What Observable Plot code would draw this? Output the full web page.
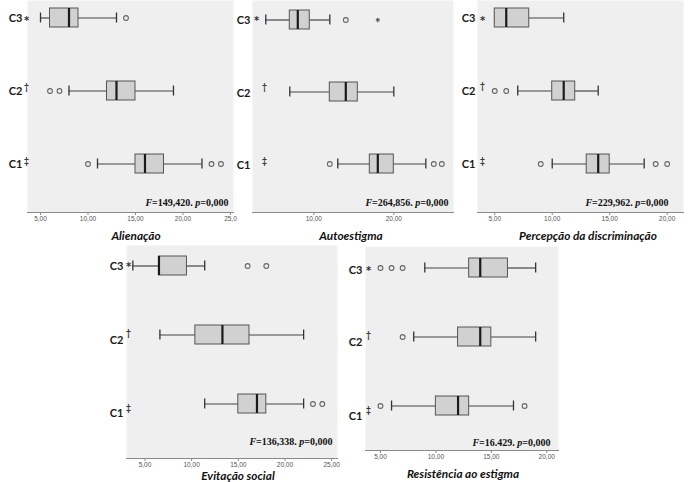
<!DOCTYPE html>
<html><head><meta charset="utf-8">
<script src="https://cdn.jsdelivr.net/npm/d3@7"></script>
<script src="https://cdn.jsdelivr.net/npm/@observablehq/plot@0.6"></script>
<style>
body{margin:0;background:#fff;}
#fig{position:relative;width:689px;height:482px;overflow:hidden;}
.panel{position:absolute;}
.title{position:absolute;font-family:Lato,"Open Sans",sans-serif;font-weight:700;font-style:italic;font-size:11.8px;color:#111;white-space:nowrap;transform:translate(-50%,-50%);line-height:12px;}
</style></head><body><div id="fig"></div>
<script>
// ---- shared categories ----
const groups = ["C3", "C2", "C1"];
const groupMarks = ["*", "\u2020", "\u2021"];

// ---- Alienação ----
const alienTitle = "Alienação";
const alienStat = "F=149,420. p=0,000";
const alienMin = [5, 8, 11];
const alienQ1 = [6, 12, 15];
const alienMed = [8, 13, 16];
const alienQ3 = [9, 15, 18];
const alienMax = [13, 19, 22];
const alienOutGroup = ["C3", "C2", "C2", "C1", "C1", "C1"];
const alienOutValue = [14, 6, 7, 10, 23, 24];
const alienExtGroup = [];
const alienExtValue = [];
const alienTicks = [5, 10, 15, 20, 25];
const alienTickLabels = ["5,00", "10,00", "15,00", "20,00", "25,0"];

// ---- Autoestigma ----
const autoTitle = "Autoestigma";
const autoStat = "F=264,856. p=0,000";
const autoMin = [4, 7, 13];
const autoQ1 = [7, 12, 17];
const autoMed = [8, 14, 18];
const autoQ3 = [9.5, 15.5, 20];
const autoMax = [12, 20, 24];
const autoOutGroup = ["C3", "C1", "C1", "C1"];
const autoOutValue = [14, 12, 25, 26];
const autoExtGroup = ["C3"];
const autoExtValue = [18];
const autoTicks = [10, 20];
const autoTickLabels = ["10,00", "20,00"];

// ---- Percepção da discriminação ----
const percTitle = "Percepção da discriminação";
const percStat = "F=229,962. p=0,000";
const percMin = [5, 7, 10];
const percQ1 = [5, 10, 13];
const percMed = [6, 11, 14];
const percQ3 = [8, 12, 15];
const percMax = [11, 14, 18];
const percOutGroup = ["C2", "C2", "C1", "C1", "C1"];
const percOutValue = [5, 6, 9, 19, 20];
const percExtGroup = [];
const percExtValue = [];
const percTicks = [5, 10, 15, 20];
const percTickLabels = ["5,00", "10,00", "15,00", "20,00"];

// ---- Evitação social ----
const evitTitle = "Evitação social";
const evitStat = "F=136,338. p=0,000";
const evitMin = [3.7, 6.6, 11.4];
const evitQ1 = [6.5, 10.4, 15];
const evitMed = [6.5, 13.3, 17];
const evitQ3 = [9.5, 16.2, 18];
const evitMax = [11.4, 22, 22];
const evitOutGroup = ["C3", "C3", "C1", "C1"];
const evitOutValue = [16, 18, 23, 24];
const evitExtGroup = [];
const evitExtValue = [];
const evitTicks = [5, 10, 15, 20, 25];
const evitTickLabels = ["5,00", "10,00", "15,00", "20,00", "25,00"];

// ---- Resistência ao estigma ----
const resiTitle = "Resistência ao estigma";
const resiStat = "F=16.429. p=0,000";
const resiMin = [9, 8, 6];
const resiQ1 = [13, 12, 10];
const resiMed = [14, 14, 12];
const resiQ3 = [16.5, 15, 13];
const resiMax = [19, 19, 17];
const resiOutGroup = ["C3", "C3", "C3", "C2", "C1", "C1"];
const resiOutValue = [5, 6, 7, 7, 5, 18];
const resiExtGroup = [];
const resiExtValue = [];
const resiTicks = [5, 10, 15, 20];
const resiTickLabels = ["5,00", "10,00", "15,00", "20,00"];

// ---- panel layout (positions / styling only) ----
const panels = [
  {title: alienTitle, stat: alienStat, min: alienMin, q1: alienQ1, med: alienMed, q3: alienQ3, max: alienMax,
   outG: alienOutGroup, outV: alienOutValue, extG: alienExtGroup, extV: alienExtValue, ticks: alienTicks, tickLabels: alienTickLabels,
   left: 0, top: 0, width: 240, height: 235, mL: 27, mR: 7, mT: 0, mB: 23, domain: [3.63, 25.32],
   yRange: [7, 173.5], pad: 0.742, labelDx: -5, labelDy: [0, 0, 0], markDx: -1, markDy: [0, -4, -3],
   fDx: -5, fDy: -9.5, titleX: 136, titleY: 236},
  {title: autoTitle, stat: autoStat, min: autoMin, q1: autoQ1, med: autoMed, q3: autoQ3, max: autoMax,
   outG: autoOutGroup, outV: autoOutValue, extG: autoExtGroup, extV: autoExtValue, ticks: autoTicks, tickLabels: autoTickLabels,
   left: 232, top: 0, width: 228, height: 235, mL: 20, mR: 7, mT: 0, mB: 23, domain: [2.34, 27.46],
   yRange: [9.5, 173.5], pad: 0.738, labelDx: -2, labelDy: [0, 1, 1], markDx: [4, 12, 12], markDy: [-2, -6, -4],
   fDx: -5, fDy: -9.5, titleX: 351, titleY: 236},
  {title: percTitle, stat: percStat, min: percMin, q1: percQ1, med: percMed, q3: percQ3, max: percMax,
   outG: percOutGroup, outV: percOutValue, extG: percExtGroup, extV: percExtValue, ticks: percTicks, tickLabels: percTickLabels,
   left: 460, top: 0, width: 229, height: 235, mL: 17, mR: 6, mT: 0, mB: 23, domain: [3.5, 21.42],
   yRange: [7.5, 173.5], pad: 0.742, labelDx: -2, labelDy: [0, 0, 0], markDx: 5, markDy: [0, -5, -3],
   fDx: -15, fDy: -9.5, titleX: 588, titleY: 236},
  {title: evitTitle, stat: evitStat, min: evitMin, q1: evitQ1, med: evitMed, q3: evitQ3, max: evitMax,
   outG: evitOutGroup, outV: evitOutValue, extG: evitExtGroup, extV: evitExtValue, ticks: evitTicks, tickLabels: evitTickLabels,
   left: 100, top: 240, width: 240, height: 242, mL: 26, mR: 3, mT: 5, mB: 24, domain: [3.02, 25.63],
   yRange: [15.25, 173.75], pad: 0.728, labelDx: -3, labelDy: [0, 5.5, 9], markDx: 2, markDy: [-2, -7, -5],
   fDx: -5, fDy: -16.5, titleX: 238, titleY: 476},
  {title: resiTitle, stat: resiStat, min: resiMin, q1: resiQ1, med: resiMed, q3: resiQ3, max: resiMax,
   outG: resiOutGroup, outV: resiOutValue, extG: resiExtGroup, extV: resiExtValue, ticks: resiTicks, tickLabels: resiTickLabels,
   left: 340, top: 240, width: 240, height: 242, mL: 25, mR: 22, mT: 6, mB: 32, domain: [3.65, 21.06],
   yRange: [17.6, 175.3], pad: 0.726, labelDx: -3, labelDy: [2, 5.3, 10.9], markDx: 3, markDy: [-2, -6.7, -6.7],
   fDx: -8, fDy: -7.5, titleX: 463, titleY: 474}
];

const fig = document.getElementById("fig");
const idx = d3.range(groups.length);
const labelFont = "Lato, 'Open Sans', sans-serif";

for (const p of panels) {
  const outIdx = d3.range(p.outV.length);
  const extIdx = d3.range(p.extV.length);
  const marks = [
    Plot.frame({fill: "#efefef", stroke: null}),
    Plot.frame({anchor: "bottom", stroke: "#8a8a8a"}),
    Plot.axisX({ticks: p.ticks, tickFormat: d => p.tickLabels[p.ticks.indexOf(d)], tickSize: 3, tickPadding: 1,
      fontSize: 6.5, stroke: "#8a8a8a", fill: "#555", label: null, fontFamily: "Liberation Sans, Arial, sans-serif"}),
    // whiskers
    Plot.ruleY(idx, {y: i => groups[i], x1: i => p.min[i], x2: i => p.q1[i], stroke: "#454545", strokeWidth: 1.2}),
    Plot.ruleY(idx, {y: i => groups[i], x1: i => p.q3[i], x2: i => p.max[i], stroke: "#454545", strokeWidth: 1.2}),
    Plot.tickX(idx, {x: i => p.min[i], y: i => groups[i], insetTop: 4.5, insetBottom: 4.5, stroke: "#333", strokeWidth: 1.3}),
    Plot.tickX(idx, {x: i => p.max[i], y: i => groups[i], insetTop: 4.5, insetBottom: 4.5, stroke: "#333", strokeWidth: 1.3}),
    // box
    Plot.barX(idx, {x1: i => p.q1[i], x2: i => p.q3[i], y: i => groups[i], fill: "#d1d1d1", stroke: "#555", strokeWidth: 1}),
    // median
    Plot.tickX(idx, {x: i => p.med[i], y: i => groups[i], stroke: "#1a1a1a", strokeWidth: 2.2}),
    // outliers
    Plot.dot(outIdx, {x: i => p.outV[i], y: i => p.outG[i], r: 2.4, stroke: "#666", strokeWidth: 1.1, fill: "none"}),
    Plot.dot(extIdx, {x: i => p.extV[i], y: i => p.extG[i], r: 2, symbol: "asterisk", stroke: "#555", strokeWidth: 1.1}),
    // F statistic
    Plot.text([p.stat], {text: d => d, frameAnchor: "bottom-right", textAnchor: "end", lineAnchor: "middle",
      dx: p.fDx, dy: p.fDy, fontSize: 10, fontWeight: "bold", fill: "#111",
      fontFamily: "'Liberation Serif', 'Times New Roman', serif", className: "fstat"})
  ];
  // category labels and their significance marks
  groups.forEach((g, i) => {
    marks.push(Plot.text([g], {y: d => d, text: d => d, frameAnchor: "left", textAnchor: "end", lineAnchor: "middle",
      dx: p.labelDx, dy: p.labelDy[i], fontSize: 11, fontWeight: "bold", fill: "#1a1a1a", fontFamily: labelFont}));
    const mdx = Array.isArray(p.markDx) ? p.markDx[i] : p.markDx;
    const isStar = i === 0;
    marks.push(Plot.text([groupMarks[i]], {y: () => g, text: d => d, frameAnchor: "left", textAnchor: "middle", lineAnchor: "middle",
      dx: mdx, dy: p.labelDy[i] + p.markDy[i] + (isStar ? 3 : 0), fontSize: isStar ? 10 : 8.5, fontWeight: "bold",
      fill: "#333", fontFamily: isStar ? "'DejaVu Sans', sans-serif" : labelFont}));
  });

  const chart = Plot.plot({
    width: p.width, height: p.height,
    marginLeft: p.mL, marginRight: p.mR, marginTop: p.mT, marginBottom: p.mB,
    x: {domain: p.domain},
    y: {type: "band", domain: groups, range: p.yRange, paddingInner: p.pad, paddingOuter: 0, axis: null},
    style: {background: "transparent", overflow: "visible"},
    marks
  });
  // italicise F and p in the statistic
  d3.select(chart).selectAll(".fstat text").each(function() {
    const t = this.textContent;
    const sel = d3.select(this);
    sel.text(null);
    t.split(/([Fp](?==))/).filter(s => s.length).forEach(s => {
      const ts = sel.append("tspan").text(s);
      if (s === "F" || s === "p") ts.attr("font-style", "italic");
    });
  });
  chart.classList.add("panel");
  chart.style.left = p.left + "px";
  chart.style.top = p.top + "px";
  fig.appendChild(chart);

  const t = document.createElement("div");
  t.className = "title";
  t.textContent = p.title;
  t.style.left = p.titleX + "px";
  t.style.top = p.titleY + "px";
  fig.appendChild(t);
}
</script></body></html>
